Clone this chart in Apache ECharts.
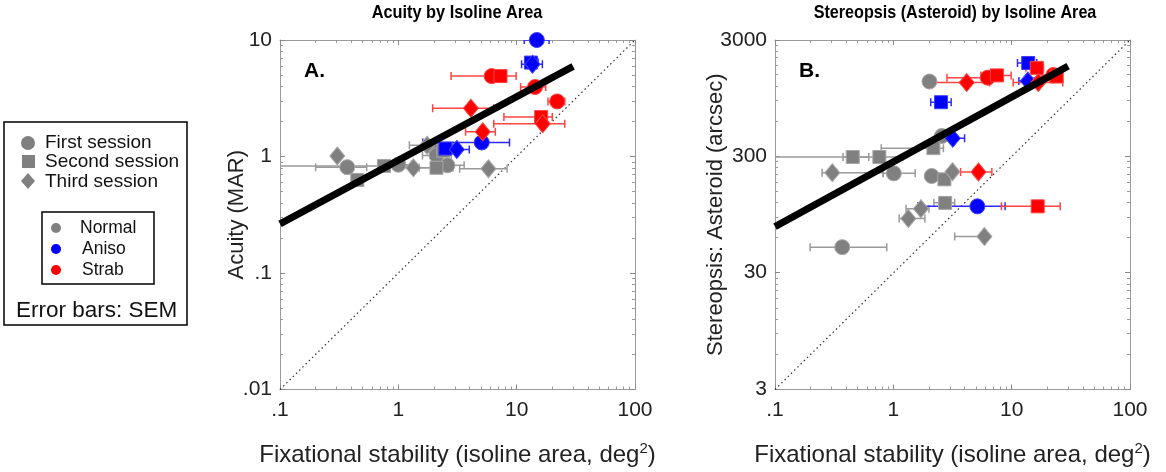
<!DOCTYPE html>
<html>
<head>
<meta charset="utf-8">
<script src="https://cdn.jsdelivr.net/npm/echarts@6/dist/echarts.min.js"></script>
<style>
  html, body { margin: 0; background: #fff; }
  #chart { width: 1166px; height: 472px; }
</style>
</head>
<body>
<div id="chart"></div>
<script>
// each row: [x, y, xLow, xHigh, session]   session 1 = circle, 2 = square, 3 = diamond
const acuityNormal = [
  [0.37, 0.81, 0.2, 0.54, 1], [0.305, 1.01, null, null, 3], [0.45, 0.63, null, null, 2],
  [0.757, 0.83, 0.1, 1.3, 2], [1.0, 0.85, 0.75, 1.35, 1], [1.34, 0.8, 0.95, 1.9, 3],
  [1.75, 1.25, 1.24, 2.9, 3], [2.0, 1.2, null, null, 1], [2.1, 1.02, 1.6, 2.8, 1],
  [2.1, 0.8, 1.5, 2.9, 2], [2.6, 0.84, 2.2, 3.6, 1], [2.4, 1.12, 1.9, 3.2, 2],
  [5.77, 0.785, 3.3, 8.3, 3]
];
const acuityAniso = [
  [14.8, 10, 11.6, 18.8, 1], [13.2, 6.4, 11.8, 15.2, 2], [13.6, 6.2, 11.0, 16.5, 3],
  [5.07, 1.32, 1.61, 8.7, 1], [2.5, 1.17, 1.9, 3.2, 2], [3.12, 1.15, 2.5, 3.98, 3]
];
const acuityStrab = [
  [6.15, 4.9, 2.79, 8.0, 1], [7.3, 4.9, 5.6, 9.9, 2], [14.3, 3.95, 10.8, 17.6, 1],
  [22, 2.97, 18.4, 25.5, 1], [4.1, 2.6, 1.95, 6.4, 3], [16.1, 2.18, 7.8, 20, 2],
  [16.6, 1.91, 6.4, 25.5, 3], [5.17, 1.63, 3.7, 6.6, 3]
];
const stereoNormal = [
  [2.02, 1320, null, null, 1], [2.57, 450, null, null, 1], [2.18, 354, 0.79, 2.65, 2],
  [0.454, 297, 0.08, 0.62, 2], [0.762, 297, 0.376, 1.2, 2], [0.305, 218, 0.25, 0.82, 3],
  [1.01, 215, 0.82, 1.53, 1], [2.11, 204, null, null, 1], [2.7, 191, null, null, 2],
  [3.16, 222, null, null, 3], [2.74, 120, 2.2, 3.3, 2], [1.71, 107, 1.28, 2.0, 3],
  [1.34, 88, 1.12, 1.85, 3], [0.37, 50, 0.198, 0.88, 1], [5.88, 61.6, 3.3, 5.9, 3]
];
const stereoAniso = [
  [13.8, 1905, 11.2, 16.3, 2], [13.7, 1333, 11.5, 15.5, 3], [2.53, 877, 2.07, 3.08, 2],
  [3.18, 430, 2.6, 4.0, 3], [5.13, 112, 1.61, 8.8, 1]
];
const stereoStrab = [
  [16.3, 1730, 13.2, 18.6, 2], [22.5, 1500, 18, 25.5, 1], [24, 1460, 20, 26, 2],
  [6.28, 1425, 2.84, 8.5, 1], [7.5, 1490, 5.5, 9.9, 2], [4.17, 1293, 2.0, 6.5, 3],
  [16.8, 1293, 10.3, 27, 3], [5.24, 221, 3.7, 6.8, 3], [16.6, 112, 8.2, 25.7, 2]
];
// regression fits and unity lines
const fitA = [[0.1, 0.264], [30, 5.94]];
const fitB = [[0.1, 75], [30, 1790]];
const unityA = [[0.1, 0.01], [100, 10]];
const unityB = [[0.1, 3], [100, 3000]];
// tick values
const xTicks = [0.1, 1, 10, 100];
const yTicksA = [0.01, 0.1, 1, 10];
const yTicksB = [3, 30, 300, 3000];

const FONT = 'Liberation Sans, Arial, Helvetica, sans-serif';
const groups = [
  { fill: '#808080', edge: '#a6a6a6', bar: '#9a9a9a' },
  { fill: '#0000ff', edge: '#3d3dff', bar: '#2b2bff' },
  { fill: '#ff0000', edge: '#ff4040', bar: '#ff4444' }
];
const shapes = { 1: ['circle', 15], 2: ['rect', 13], 3: ['diamond', [15, 18]] };

function fmt(v) {
  const s = String(+v.toPrecision(2));
  return s.startsWith('0.') ? s.slice(1) : s;
}

function renderBar(color) {
  return function (params, api) {
    const y = api.value(2);
    const a = api.coord([api.value(0), y]);
    const b = api.coord([api.value(1), y]);
    const cap = 4;
    const st = { stroke: color, lineWidth: 1.5 };
    return {
      type: 'group',
      children: [
        { type: 'line', shape: { x1: a[0], y1: a[1], x2: b[0], y2: b[1] }, style: st },
        { type: 'line', shape: { x1: a[0], y1: a[1] - cap, x2: a[0], y2: a[1] + cap }, style: st },
        { type: 'line', shape: { x1: b[0], y1: b[1] - cap, x2: b[0], y2: b[1] + cap }, style: st }
      ]
    };
  };
}

function panelSeries(idx, sets, fit, unity) {
  const out = [];
  sets.forEach((rows, g) => {
    out.push({
      type: 'custom', xAxisIndex: idx * 2, yAxisIndex: idx * 2, clip: true, z: 2,
      renderItem: renderBar(groups[g].bar),
      encode: { x: [0, 1], y: 2 },
      data: rows.filter(r => r[2] != null).map(r => [r[2], r[3], r[1]])
    });
  });
  sets.forEach((rows, g) => {
    [1, 2, 3].forEach(s => {
      out.push({
        type: 'scatter', xAxisIndex: idx * 2, yAxisIndex: idx * 2, z: 3,
        symbol: shapes[s][0], symbolSize: shapes[s][1],
        itemStyle: { color: groups[g].fill, borderColor: groups[g].edge, borderWidth: 1, opacity: 1 },
        data: rows.filter(r => r[4] === s).map(r => [r[0], r[1]])
      });
    });
  });
  out.push({
    type: 'line', xAxisIndex: idx * 2, yAxisIndex: idx * 2, z: 1, symbol: 'none',
    lineStyle: { color: '#333', width: 1.2, type: [1.5, 3] }, data: unity
  });
  out.push({
    type: 'line', xAxisIndex: idx * 2, yAxisIndex: idx * 2, z: 4, symbol: 'none',
    lineStyle: { color: '#000', width: 7, cap: 'butt' }, data: fit
  });
  return out;
}

const tick = { inside: true, length: 5, lineStyle: { color: '#888' } };
const minor = { show: true, splitNumber: 9, length: 3, lineStyle: { color: '#999' } };
const line = { show: true, lineStyle: { color: '#9a9a9a', width: 1 } };
const xName = 'Fixational stability (isoline area, deg{s|2})';
const xNameStyle = { fontSize: 24, color: '#222', fontFamily: FONT,
  rich: { s: { fontSize: 15, color: '#222', fontFamily: FONT, verticalAlign: 'top', padding: [0, 0, 12, 0] } } };

function xAxes(grid) {
  return [
    { type: 'log', gridIndex: grid, logBase: 10, min: xTicks[0], max: xTicks[xTicks.length - 1], interval: 1,
      axisLine: line, axisTick: tick, minorTick: minor, splitLine: { show: false },
      axisLabel: { fontSize: 21, color: '#222', fontFamily: FONT, margin: 10, formatter: fmt },
      name: xName, nameLocation: 'middle', nameGap: 52, nameMoveOverlap: false, nameTextStyle: xNameStyle },
    { type: 'log', gridIndex: grid, position: 'top', logBase: 10, min: xTicks[0], max: xTicks[xTicks.length - 1], interval: 1,
      axisLine: line, axisTick: tick, minorTick: minor, splitLine: { show: false }, axisLabel: { show: false } }
  ];
}
function yAxes(grid, ticks, name, gap) {
  return [
    { type: 'log', gridIndex: grid, logBase: 10, min: ticks[0], max: ticks[ticks.length - 1], interval: 1,
      axisLine: line, axisTick: tick, minorTick: minor, splitLine: { show: false },
      axisLabel: { fontSize: 21, color: '#222', fontFamily: FONT, margin: 8, formatter: fmt },
      name: name, nameLocation: 'middle', nameGap: gap, nameMoveOverlap: false,
      nameTextStyle: { fontSize: 22, color: '#222', fontFamily: FONT } },
    { type: 'log', gridIndex: grid, position: 'right', logBase: 10, min: ticks[0], max: ticks[ticks.length - 1], interval: 1,
      axisLine: line, axisTick: tick, minorTick: minor, splitLine: { show: false }, axisLabel: { show: false } }
  ];
}

const legendGraphics = [
  { type: 'rect', shape: { x: 4, y: 122, width: 183, height: 203 }, style: { fill: '#fff', stroke: '#000', lineWidth: 1.5 } },
  { type: 'circle', shape: { cx: 28, cy: 143, r: 7 }, style: { fill: '#808080' } },
  { type: 'rect', shape: { x: 22, y: 155, width: 13, height: 13 }, style: { fill: '#808080' } },
  { type: 'polygon', shape: { points: [[28, 173], [35, 181], [28, 189], [21, 181]] }, style: { fill: '#808080' } },
  { type: 'text', x: 45, y: 143, style: { text: 'First session', font: '19px ' + FONT, fill: '#111', verticalAlign: 'middle' } },
  { type: 'text', x: 45, y: 162, style: { text: 'Second session', font: '19px ' + FONT, fill: '#111', verticalAlign: 'middle' } },
  { type: 'text', x: 45, y: 182, style: { text: 'Third session', font: '19px ' + FONT, fill: '#111', verticalAlign: 'middle' } },
  { type: 'rect', shape: { x: 42, y: 212, width: 112, height: 72 }, style: { fill: '#fff', stroke: '#000', lineWidth: 1.5 } },
  { type: 'circle', shape: { cx: 56, cy: 228, r: 5 }, style: { fill: '#808080' } },
  { type: 'circle', shape: { cx: 56, cy: 249, r: 5 }, style: { fill: '#0000ff' } },
  { type: 'circle', shape: { cx: 56, cy: 270, r: 5 }, style: { fill: '#ff0000' } },
  { type: 'text', x: 80, y: 228, style: { text: 'Normal', font: '17.5px ' + FONT, fill: '#111', verticalAlign: 'middle' } },
  { type: 'text', x: 82, y: 249, style: { text: 'Aniso', font: '17.5px ' + FONT, fill: '#111', verticalAlign: 'middle' } },
  { type: 'text', x: 82, y: 270, style: { text: 'Strab', font: '17.5px ' + FONT, fill: '#111', verticalAlign: 'middle' } },
  { type: 'text', x: 16, y: 311, style: { text: 'Error bars: SEM', font: '22.5px ' + FONT, fill: '#111', verticalAlign: 'middle' } }
];
const titleGraphics = [
  { type: 'text', x: 457, y: 13, scaleX: 0.86, style: { text: 'Acuity by Isoline Area', font: 'bold 19px ' + FONT, fill: '#000', align: 'center', verticalAlign: 'middle' } },
  { type: 'text', x: 955, y: 13, scaleX: 0.85, style: { text: 'Stereopsis (Asteroid) by Isoline Area', font: 'bold 19px ' + FONT, fill: '#000', align: 'center', verticalAlign: 'middle' } },
  { type: 'text', x: 304, y: 71, style: { text: 'A.', font: 'bold 21px ' + FONT, fill: '#000', verticalAlign: 'middle' } },
  { type: 'text', x: 799, y: 71, style: { text: 'B.', font: 'bold 21px ' + FONT, fill: '#000', verticalAlign: 'middle' } }
];

const chart = echarts.init(document.getElementById('chart'));
chart.setOption({
  animation: false,
  backgroundColor: '#fff',
  grid: [
    { left: 280, top: 40, width: 355, height: 355 },
    { left: 775, top: 40, width: 355, height: 356 }
  ],
  xAxis: xAxes(0).concat(xAxes(1)),
  yAxis: yAxes(0, yTicksA, 'Acuity (MAR)', 32).concat(yAxes(1, yTicksB, 'Stereopsis: Asteroid (arcsec)', 48)),
  series: panelSeries(0, [acuityNormal, acuityAniso, acuityStrab], fitA, unityA)
    .concat(panelSeries(1, [stereoNormal, stereoAniso, stereoStrab], fitB, unityB)),
  graphic: legendGraphics.concat(titleGraphics)
});
</script>
</body>
</html>
